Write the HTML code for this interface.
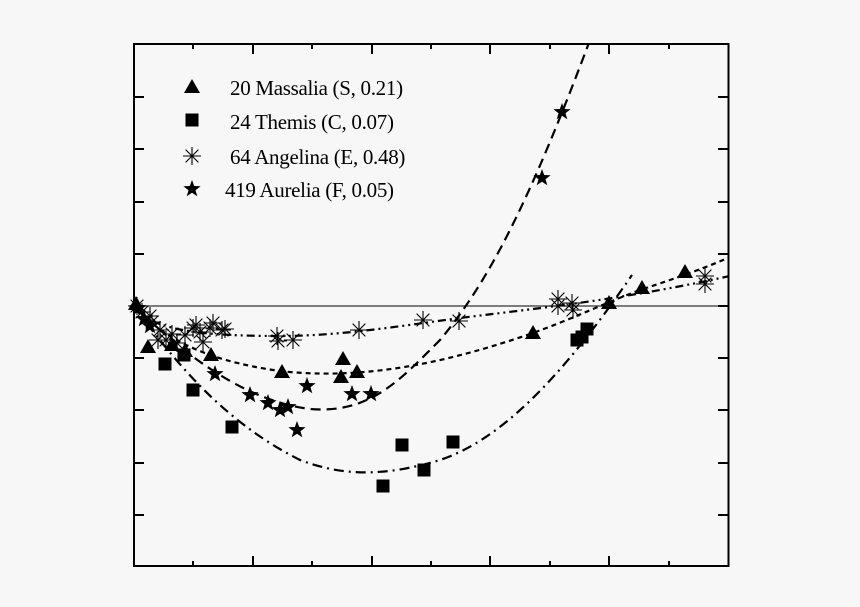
<!DOCTYPE html>
<html><head><meta charset="utf-8"><style>
html,body{margin:0;padding:0;background:#f7f7f7;}
svg{display:block;}
text{font-family:"Liberation Serif",serif;font-size:21px;fill:#000;letter-spacing:-0.3px;}
</style></head><body>
<svg width="860" height="607" viewBox="0 0 860 607" xmlns="http://www.w3.org/2000/svg">
<defs>
<polygon id="tri" points="0,-8 8,6 -8,6" fill="#000"/>
<rect id="sq" x="-6.5" y="-6.5" width="13" height="13" fill="#000"/>
<polygon id="star" points="0,-9 2.2,-3 8.6,-2.8 3.5,1.2 5.3,7.3 0,3.7 -5.3,7.3 -3.5,1.2 -8.6,-2.8 -2.2,-3" fill="#000"/>
<g id="ast" stroke="#000" stroke-width="1.1"><line x1="-9" y1="0" x2="9" y2="0"/><line x1="0" y1="-9" x2="0" y2="9"/><line x1="-6.4" y1="-6.4" x2="6.4" y2="6.4"/><line x1="-6.4" y1="6.4" x2="6.4" y2="-6.4"/></g>
<clipPath id="c"><rect x="134" y="44" width="594" height="522"/></clipPath>
</defs>
<rect x="0" y="0" width="860" height="607" fill="#f7f7f7"/>
<line x1="134" y1="306" x2="728" y2="306" stroke="#333" stroke-width="1.3"/>
<g clip-path="url(#c)" fill="none" stroke="#000" stroke-width="2.2">
<path d="M134,306 C160,335 200,360 280,371 C360,380 440,365 530,334 C570,320 600,305 640,290 C680,277 710,266 730,257" stroke-dasharray="5,4"/>
<path d="M134,306 C170,355 220,420 300,460 C340,475 380,478 440,460 C500,440 560,380 632,275" stroke-dasharray="10,5,2,5"/>
<path d="M134,306 C150,330 200,336 280,336 C340,336 400,326 460,318 C540,308 620,300 730,276" stroke-dasharray="8,4,2,4,2,4"/>
<path d="M134,306 C180,350 240,400 310,409 C370,414 400,380 440,340 C490,280 530,200 590,40" stroke-dasharray="10,6"/>
</g>
<rect x="134" y="44" width="594.5" height="522" fill="none" stroke="#000" stroke-width="2"/>
<g stroke="#000" stroke-width="2">
<line x1="193" y1="566" x2="193" y2="561"/><line x1="253" y1="566" x2="253" y2="556"/>
<line x1="312" y1="566" x2="312" y2="561"/><line x1="372" y1="566" x2="372" y2="556"/>
<line x1="431" y1="566" x2="431" y2="561"/><line x1="490" y1="566" x2="490" y2="556"/>
<line x1="550" y1="566" x2="550" y2="561"/><line x1="609" y1="566" x2="609" y2="556"/>
<line x1="669" y1="566" x2="669" y2="561"/>
<line x1="193" y1="44" x2="193" y2="49"/><line x1="253" y1="44" x2="253" y2="54"/>
<line x1="312" y1="44" x2="312" y2="49"/><line x1="372" y1="44" x2="372" y2="54"/>
<line x1="431" y1="44" x2="431" y2="49"/><line x1="490" y1="44" x2="490" y2="54"/>
<line x1="550" y1="44" x2="550" y2="49"/><line x1="609" y1="44" x2="609" y2="54"/>
<line x1="669" y1="44" x2="669" y2="49"/>
<line x1="134" y1="97" x2="144" y2="97"/><line x1="134" y1="149" x2="144" y2="149"/>
<line x1="134" y1="202" x2="144" y2="202"/><line x1="134" y1="254" x2="144" y2="254"/>
<line x1="134" y1="306" x2="144" y2="306"/><line x1="134" y1="358" x2="144" y2="358"/>
<line x1="134" y1="410" x2="144" y2="410"/><line x1="134" y1="463" x2="144" y2="463"/>
<line x1="134" y1="515" x2="144" y2="515"/>
<line x1="728" y1="97" x2="718" y2="97"/><line x1="728" y1="149" x2="718" y2="149"/>
<line x1="728" y1="202" x2="718" y2="202"/><line x1="728" y1="254" x2="718" y2="254"/>
<line x1="728" y1="306" x2="718" y2="306"/><line x1="728" y1="358" x2="718" y2="358"/>
<line x1="728" y1="410" x2="718" y2="410"/><line x1="728" y1="463" x2="718" y2="463"/>
<line x1="728" y1="515" x2="718" y2="515"/>
</g>
<g>
<use href="#ast" x="137" y="306"/><use href="#ast" x="142" y="312"/><use href="#ast" x="150" y="316"/><use href="#ast" x="152" y="322"/>
<use href="#ast" x="160" y="330"/><use href="#ast" x="158" y="340"/><use href="#ast" x="166" y="340"/><use href="#ast" x="172" y="334"/>
<use href="#ast" x="177" y="343"/><use href="#ast" x="185" y="335"/><use href="#ast" x="193" y="328"/><use href="#ast" x="196" y="325"/>
<use href="#ast" x="200" y="332"/><use href="#ast" x="203" y="342"/><use href="#ast" x="210" y="328"/><use href="#ast" x="213" y="323"/>
<use href="#ast" x="222" y="330"/><use href="#ast" x="225" y="329"/>
<use href="#ast" x="277" y="336"/><use href="#ast" x="278" y="341"/><use href="#ast" x="293" y="340"/>
<use href="#ast" x="359" y="330"/><use href="#ast" x="423" y="320"/><use href="#ast" x="459" y="321"/>
<use href="#ast" x="558" y="299"/><use href="#ast" x="558" y="306"/><use href="#ast" x="572" y="303"/><use href="#ast" x="573" y="310"/>
<use href="#ast" x="705" y="276"/><use href="#ast" x="705" y="284"/>
</g>
<g>
<use href="#tri" x="136" y="304"/><use href="#tri" x="148" y="347"/><use href="#tri" x="172" y="345"/><use href="#tri" x="185" y="351"/>
<use href="#tri" x="211" y="355"/><use href="#tri" x="282" y="372"/><use href="#tri" x="343" y="359"/><use href="#tri" x="341" y="377"/>
<use href="#tri" x="357" y="372"/><use href="#tri" x="533" y="333"/><use href="#tri" x="609" y="303"/><use href="#tri" x="642" y="288"/>
<use href="#tri" x="685" y="272"/>
</g>
<g>
<use href="#sq" x="165" y="364"/><use href="#sq" x="184" y="355"/><use href="#sq" x="193" y="390"/><use href="#sq" x="232" y="427"/>
<use href="#sq" x="383" y="486"/><use href="#sq" x="402" y="445"/><use href="#sq" x="424" y="470"/><use href="#sq" x="453" y="442"/>
<use href="#sq" x="577" y="340"/><use href="#sq" x="582" y="337"/><use href="#sq" x="587" y="329"/>
</g>
<g>
<use href="#star" x="138" y="308"/><use href="#star" x="144" y="319"/><use href="#star" x="150" y="326"/><use href="#star" x="215" y="374"/>
<use href="#star" x="250" y="395"/><use href="#star" x="268" y="403"/><use href="#star" x="280" y="410"/><use href="#star" x="288" y="407"/>
<use href="#star" x="297" y="430"/><use href="#star" x="307" y="386"/><use href="#star" x="352" y="394"/><use href="#star" x="371" y="394"/>
<use href="#star" x="542" y="178"/><use href="#star" x="562" y="112"/>
</g>
<use href="#tri" x="192" y="87"/>
<use href="#sq" x="192" y="120"/>
<use href="#ast" x="192" y="156"/>
<use href="#star" x="192" y="189"/>
<text x="230" y="95">20 Massalia (S, 0.21)</text>
<text x="230" y="129">24 Themis (C, 0.07)</text>
<text x="230" y="164">64 Angelina (E, 0.48)</text>
<text x="225" y="197">419 Aurelia (F, 0.05)</text>
</svg>
</body></html>
